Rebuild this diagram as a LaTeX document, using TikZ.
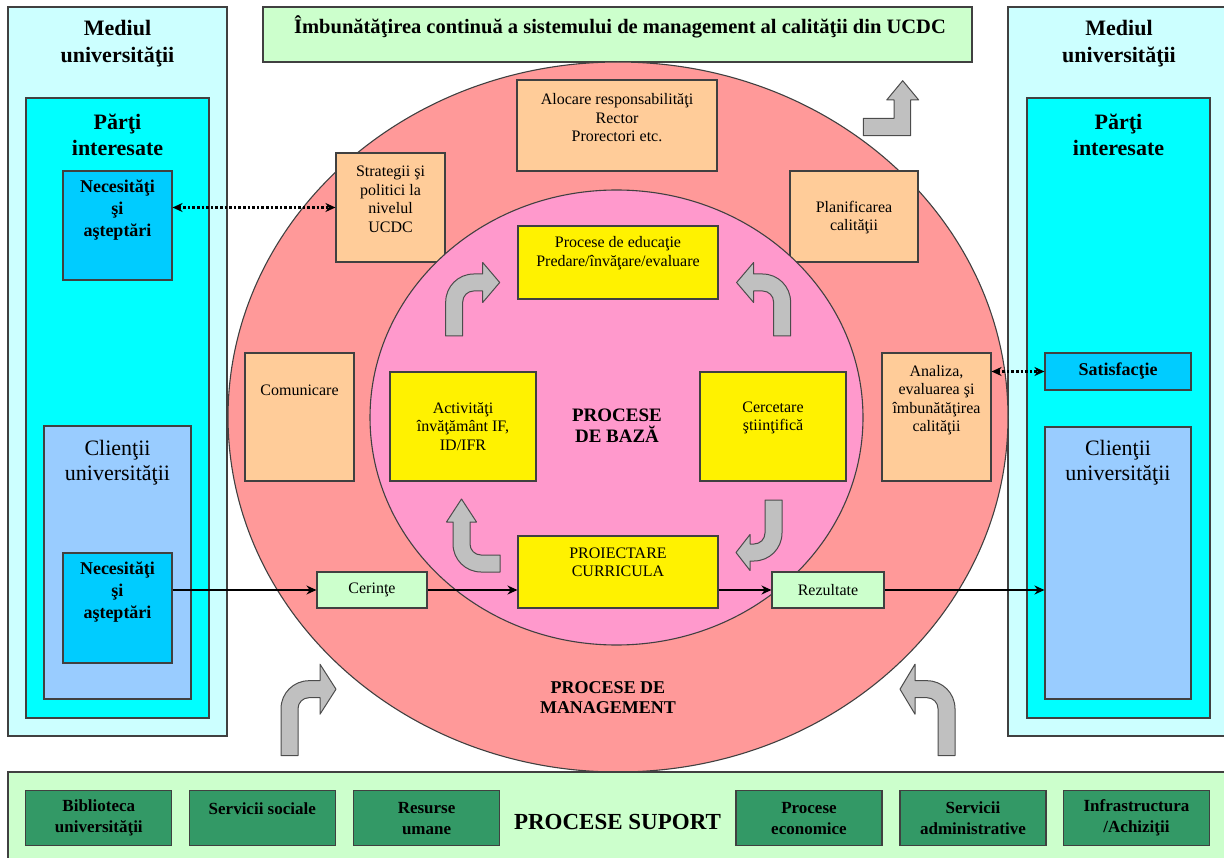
\documentclass[tikz,border=0pt]{standalone}
\usepackage{fontspec}
\setmainfont{Liberation Serif}
\usetikzlibrary{shapes.geometric,positioning,arrows.meta}

\definecolor{mediulfill}{HTML}{CCFFFF}
\definecolor{partifill}{HTML}{00FFFF}
\definecolor{needfill}{HTML}{00CCFF}
\definecolor{clientfill}{HTML}{99CCFF}
\definecolor{lightgreen}{HTML}{CCFFCC}
\definecolor{mgmtfill}{HTML}{FF9999}
\definecolor{bazafill}{HTML}{FF99CC}
\definecolor{orangefill}{HTML}{FFCC99}
\definecolor{suportfill}{HTML}{339966}
\definecolor{arrowgray}{HTML}{C0C0C0}

% bent block arrow: #1 first leg, #2 second leg, #3 head length, #4 head half width
\tikzset{
  pics/bentarrow/.style n args={4}{code={
    \draw[grayarrow] (0,0) -- (0,{-#1})
      .. controls (0,{-#1-15.5}) and (12.5,{-#1-28}) .. (28,{-#1-28})
      -- ({28+#2},{-#1-28}) -- ({28+#2},{-#1-19.5-#4}) -- ({28+#2+#3},{-#1-19.5})
      -- ({28+#2},{-#1-19.5+#4}) -- ({28+#2},{-#1-11}) -- (28,{-#1-11})
      .. controls (21.9,{-#1-11}) and (17,{-#1-6.1}) .. (17,{-#1}) -- (17,0) -- cycle;
  }}
}

\begin{document}
\begin{tikzpicture}[
    x=1pt, y=-1pt,
    box/.style={rectangle, draw=black!75, line width=1.1pt, inner sep=0pt, align=center},
    mediul/.style={box, fill=mediulfill},
    parti/.style={box, fill=partifill},
    need/.style={box, fill=needfill, font=\fontsize{18}{22}\selectfont\bfseries},
    client/.style={box, fill=clientfill},
    greenbox/.style={box, fill=lightgreen, font=\fontsize{16}{18.5}\selectfont},
    orangebox/.style={box, fill=orangefill},
    yellowbox/.style={box, fill=yellow, font=\fontsize{16}{18.5}\selectfont},
    suportbox/.style={box, fill=suportfill, minimum width=146, minimum height=55, font=\fontsize{17}{21}\selectfont\bfseries},
    txt/.style={inner sep=0pt, align=center, font=\fontsize{16}{18.5}\selectfont},
    bigtxt/.style={inner sep=0pt, align=center, font=\fontsize{22}{26.5}\selectfont\bfseries},
    clienttxt/.style={inner sep=0pt, align=center, font=\fontsize{22}{25}\selectfont},
    needtxt/.style={inner sep=0pt, align=center, font=\fontsize{18}{22}\selectfont\bfseries},
    headtxt/.style={inner sep=0pt, align=center, font=\fontsize{19}{21}\selectfont\bfseries},
    arrow/.style={line width=1.6pt, -{Stealth[length=10pt,width=9pt]}},
    dotarrow/.style={line width=2.6pt, dotted, {Stealth[length=10pt,width=9pt]}-{Stealth[length=10pt,width=9pt]}},
    grayarrow/.style={draw=black!70, line width=1pt, fill=arrowgray, line join=round}
]
    \useasboundingbox (0,0) rectangle (1224,858);

    % Mediul universitatii (left and right)
    \node[mediul, minimum width=219, minimum height=729] (mediulL) at (117.5,371.5) {};
    \node[bigtxt] (mediulLtxt) at (117.5,43.5) {Mediul\\universităţii};
    \node[parti, minimum width=183, minimum height=620] (partiL) at (117.5,408) {};
    \node[bigtxt] (partiLtxt) at (117.5,135) {Părţi\\interesate};
    \node[need, minimum width=109, minimum height=109] (needL) at (117.5,225.5) {};
    \node[needtxt] (needLtxt) at (117.5,210) {Necesităţi\\şi\\aşteptări};
    \node[client, minimum width=147, minimum height=273] (clientL) at (117.5,562.5) {};
    \node[clienttxt] (clientLtxt) at (117.5,462.5) {Clienţii\\universităţii};
    \node[need, minimum width=109, minimum height=110] (needC) at (117.5,608) {};
    \node[needtxt] (needCtxt) at (117.5,592.5) {Necesităţi\\şi\\aşteptări};

    \node[mediul, minimum width=219, minimum height=729] (mediulR) at (1117.5,371.5) {};
    \node[bigtxt] (mediulRtxt) at (1119,43.5) {Mediul\\universităţii};
    \node[parti, minimum width=183, minimum height=620] (partiR) at (1118.5,408) {};
    \node[bigtxt] (partiRtxt) at (1118.5,135) {Părţi\\interesate};
    \node[need, minimum width=146, minimum height=37] (satisf) at (1118,371.5) {Satisfacţie};
    \node[client, minimum width=146, minimum height=272] (clientR) at (1118,563) {};
    \node[clienttxt] (clientRtxt) at (1118,462.5) {Clienţii\\universităţii};

    % Title
    \node[box, fill=lightgreen, minimum width=709, minimum height=55] (titlu) at (617.5,34.5) {};
    \node[inner sep=0pt, font=\fontsize{20.5}{24}\selectfont\bfseries] (titlutxt) at (620,27)
        {Îmbunătăţirea continuă a sistemului de management al calităţii din UCDC};

    % Management processes
    \node[ellipse, draw=black!75, line width=1.1pt, fill=mgmtfill, inner sep=0pt,
          minimum width=780, minimum height=710] (management) at (618,417) {};
    \node[headtxt, font=\fontsize{18}{20}\selectfont\bfseries] (managementtxt) at (608,698) {PROCESE DE\\MANAGEMENT};
    \node[orangebox, minimum width=200, minimum height=91] (alocare) at (617,125.5) {};
    \node[txt] (alocaretxt) at (617,118) {Alocare responsabilităţi\\Rector\\Prorectori etc.};
    \node[orangebox, minimum width=109, minimum height=109] (strategii) at (390.5,207.5) {};
    \node[txt] (strategiitxt) at (390.5,199.5) {Strategii şi\\politici la\\nivelul\\UCDC};
    \node[orangebox, minimum width=128, minimum height=91] (planificare) at (854,216.5) {};
    \node[txt] (planificaretxt) at (854,217.5) {Planificarea\\calităţii};
    \node[orangebox, minimum width=109, minimum height=128] (comunicare) at (299.5,417) {};
    \node[txt] (comunicaretxt) at (299.5,390) {Comunicare};
    \node[orangebox, minimum width=109, minimum height=128] (analiza) at (936.5,417) {};
    \node[txt] (analizatxt) at (936.5,400) {Analiza,\\evaluarea şi\\îmbunătăţirea\\calităţii};

    % Core processes
    \node[ellipse, draw=black!75, line width=1.1pt, fill=bazafill, inner sep=0pt,
          minimum width=493, minimum height=455] (baza) at (616.5,417.5) {};
    \node[headtxt] (bazatxt) at (617,425.5) {PROCESE\\DE BAZĂ};
    \node[yellowbox, minimum width=200, minimum height=73] (educatie) at (618,262.5) {};
    \node[txt] (educatietxt) at (618,253) {Procese de educaţie\\Predare/învăţare/evaluare};
    \node[yellowbox, minimum width=146, minimum height=109] (activitati) at (463,426.5)
        {Activităţi\\învăţământ IF,\\ID/IFR};
    \node[yellowbox, minimum width=146, minimum height=109] (cercetare) at (773,426.5) {};
    \node[txt] (cercetaretxt) at (773,418) {Cercetare\\ştiinţifică};
    \node[yellowbox, minimum width=200, minimum height=72] (proiectare) at (618,572) {};
    \node[txt] (proiectaretxt) at (618,562.5) {PROIECTARE\\CURRICULA};
    \node[greenbox, minimum width=110, minimum height=36] (cerinte) at (372,590) {Cerinţe};
    \node[greenbox, minimum width=112, minimum height=36] (rezultate) at (828,590) {Rezultate};

    % Cycle arrows
    \pic at (445.7,336) {bentarrow={34}{9}{17}{20}};
    \pic[xscale=-1] at (790.6,336) {bentarrow={34}{9}{17}{20}};
    \pic[rotate=180] at (782,500) {bentarrow={33}{4}{14}{18}};
    \pic[rotate=90] at (500,572) {bentarrow={19}{22}{23}{15}};

    % Support arrows and improvement arrow
    \pic at (281,755.7) {bentarrow={47}{11}{16}{25}};
    \pic[xscale=-1] at (955,755.7) {bentarrow={47}{12}{15}{25}};
    \draw[grayarrow] (863.3,118.3) -- (863.3,135.7) -- (910.7,135.7) -- (910.7,100) -- (918.7,100)
        -- (902.7,80.7) -- (886.7,100) -- (894,100) -- (894,118.3) -- cycle;

    % Support processes
    \node[box, fill=lightgreen, minimum width=1220, minimum height=90] (suport) at (618,817) {};
    \node[inner sep=0pt, font=\fontsize{23}{28}\selectfont\bfseries] (suporttxt) at (617.5,821.7) {PROCESE SUPORT};
    \node[suportbox] (biblioteca) at (98.8,818.2) {Biblioteca\\universităţii};
    \node[suportbox] (sociale) at (262.3,818.2) {};
    \node[inner sep=0pt, font=\fontsize{17}{21}\selectfont\bfseries] (socialetxt) at (262.3,809) {Servicii sociale};
    \node[suportbox] (resurse) at (426.6,818.2) {Resurse\\umane};
    \node[suportbox] (economice) at (809,818.2) {Procese\\economice};
    \node[suportbox] (administrative) at (973,818.2) {Servicii\\administrative};
    \node[suportbox] (infrastructura) at (1136.5,818.2) {Infrastructura\\/Achiziţii};

    % Arrows
    \draw[dotarrow] (needL.east |- strategii.west) -- (strategii.west);
    \draw[dotarrow] (analiza.east |- satisf.west) -- (satisf.west);
    \draw[arrow] (needC.east |- cerinte.west) -- (cerinte.west);
    \draw[arrow] (cerinte.east) -- (cerinte.east -| proiectare.west);
    \draw[arrow] (proiectare.east |- rezultate.west) -- (rezultate.west);
    \draw[arrow] (rezultate.east) -- (rezultate.east -| clientR.west);
\end{tikzpicture}
\end{document}
